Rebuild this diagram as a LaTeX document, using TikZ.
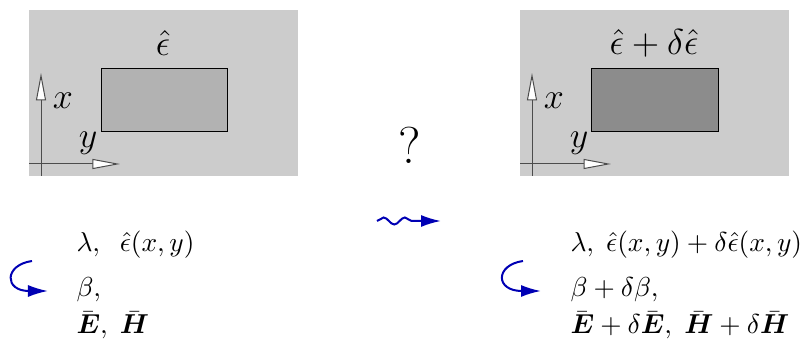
\documentclass[tikz,border=0pt]{standalone}
\usepackage{amsmath}
\usetikzlibrary{arrows.meta,decorations.pathmorphing}
\definecolor{darkblue}{RGB}{0,0,180}

\begin{document}
\begin{tikzpicture}[
    x=0.4pt, y=-0.4pt,
    panel/.style={fill=black!20},
    core/.style={draw, thin},
    axis/.style={-{Triangle[open,fill=white,length=11pt,width=4pt]}, black!70, thin},
    label/.style={inner sep=0pt, font=\Large},
    formula/.style={anchor=base west, inner sep=0pt, font=\fontsize{11}{13}\selectfont},
    flow/.style={-{Latex[length=8pt,width=4.8pt]}, thick, darkblue}
]
\useasboundingbox (0,0) rectangle (809,339);
% unperturbed waveguide
\fill[panel] (29,10) rectangle (298,176);
\draw[core, fill=black!30] (101,69) rectangle (227,132);
\node[label] (eps) at (163,43) {$\hat\epsilon$};
\draw[axis] (41,176) -- (41,73);
\draw[axis] (29,164) -- (120,164);
\node[label] (xa) at (63,101) {$x$};
\node[label] (ya) at (88,143) {$y$};
% perturbed waveguide
\begin{scope}[shift={(491,0)}]
\fill[panel] (29,10) rectangle (298,176);
\draw[core, fill=black!45] (100,69) rectangle (227,132);
\node[label] (epsd) at (163,43) {$\hat\epsilon+\delta\hat\epsilon$};
\draw[axis] (41,176) -- (41,73);
\draw[axis] (29,164) -- (120,164);
\node[label] (xb) at (63,101) {$x$};
\node[label] (yb) at (88,143) {$y$};
\end{scope}
\node[font=\huge, inner sep=0pt] (ask) at (410,145) {?};
% formulas
\node[formula] (inA) at (76,252) {$\lambda,\;\;\hat\epsilon(x,y)$};
\node[formula] (betaA) at (76,297) {$\beta,$};
\node[formula] (fieldA) at (76,334) {$\bar{\boldsymbol{E}},\;\bar{\boldsymbol{H}}$};
\node[formula] (inB) at (570,252) {$\lambda,\;\hat\epsilon(x,y)+\delta\hat\epsilon(x,y)$};
\node[formula] (betaB) at (570,297) {$\beta+\delta\beta,$};
\node[formula] (fieldB) at (570,334) {$\bar{\boldsymbol{E}}+\delta\bar{\boldsymbol{E}},\;\bar{\boldsymbol{H}}+\delta\bar{\boldsymbol{H}}$};
% arrows
\coordinate (startA) at (32,261);
\coordinate (tipA) at (48,291);
\coordinate (startB) at (523,261);
\coordinate (tipB) at (541,291);
\coordinate (wstart) at (377,221);
\coordinate (wend) at (441,221);
\draw[flow] (startA) .. controls (4,265) and (4,291) .. (tipA);
\draw[flow] (startB) .. controls (495,265) and (495,291) .. (tipB);
\draw[flow, decorate, decoration={snake, segment length=8.5pt, amplitude=1.4pt, post length=8pt}] (wstart) -- (wend);
\end{tikzpicture}
\end{document}
